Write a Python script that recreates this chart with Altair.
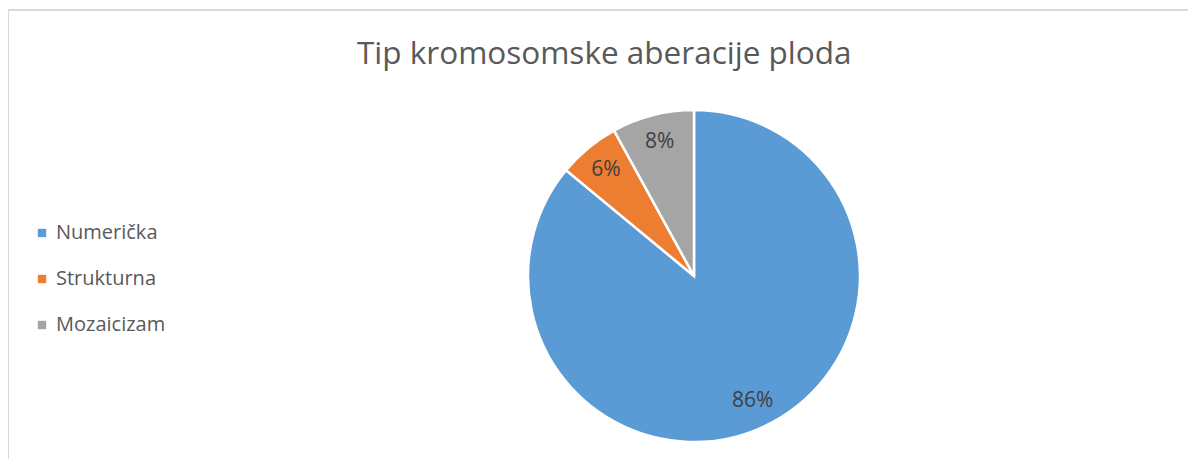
import altair as alt
import pandas as pd

categories = ["Numerička", "Strukturna", "Mozaicizam"]
values = [86, 6, 8]
labels = ["86%", "6%", "8%"]
colors = ["#5B9BD5", "#ED7D31", "#A5A5A5"]

df = pd.DataFrame({"tip": categories, "vrijednost": values, "oznaka": labels,
                   "red": list(range(len(categories)))})

FONT = "Open Sans"

base = alt.Chart(df).encode(
    theta=alt.Theta("vrijednost:Q", stack=True),
    order=alt.Order("red:Q"),
    x=alt.value(686),
    y=alt.value(266),
)

pie = base.mark_arc(radius=166, stroke="white", strokeWidth=2.5).encode(
    color=alt.Color(
        "tip:N",
        scale=alt.Scale(domain=categories, range=colors),
        sort=categories,
        legend=alt.Legend(
            title=None,
            orient="none",
            legendX=24,
            legendY=213,
            symbolType="square",
            symbolSize=70,
            symbolStrokeWidth=0,
            labelFont=FONT,
            labelFontSize=20,
            labelColor="#595959",
            rowPadding=26,
            labelOffset=4,
        ),
    )
)

text = base.mark_text(radius=138, font=FONT, fontSize=21, color="#404040").encode(
    text="oznaka:N"
)

frame_top = alt.Chart(df).mark_rule(color="#D9D9D9", strokeWidth=2).encode(
    x=alt.value(-1), x2=alt.value(1200), y=alt.value(0)
)
frame_left = alt.Chart(df).mark_rule(color="#D9D9D9", strokeWidth=2).encode(
    x=alt.value(0), y=alt.value(-1), y2=alt.value(500)
)

chart = (
    alt.layer(frame_top, frame_left, pie, text)
    .properties(
        width=1180,
        height=449,
        autosize=alt.AutoSizeParams(type="none"),
        padding={"left": 0, "top": 2, "right": 0, "bottom": 0},
        title=alt.TitleParams(
            "Tip kromosomske aberacije ploda",
            font=FONT,
            fontSize=31.5,
            fontWeight="normal",
            color="#595959",
            anchor="start",
            offset=-62,
            dx=351,
        ),
    )
    .configure_view(stroke=None)
)

chart.save("out.html", embed_options={"renderer": "svg", "actions": False})
